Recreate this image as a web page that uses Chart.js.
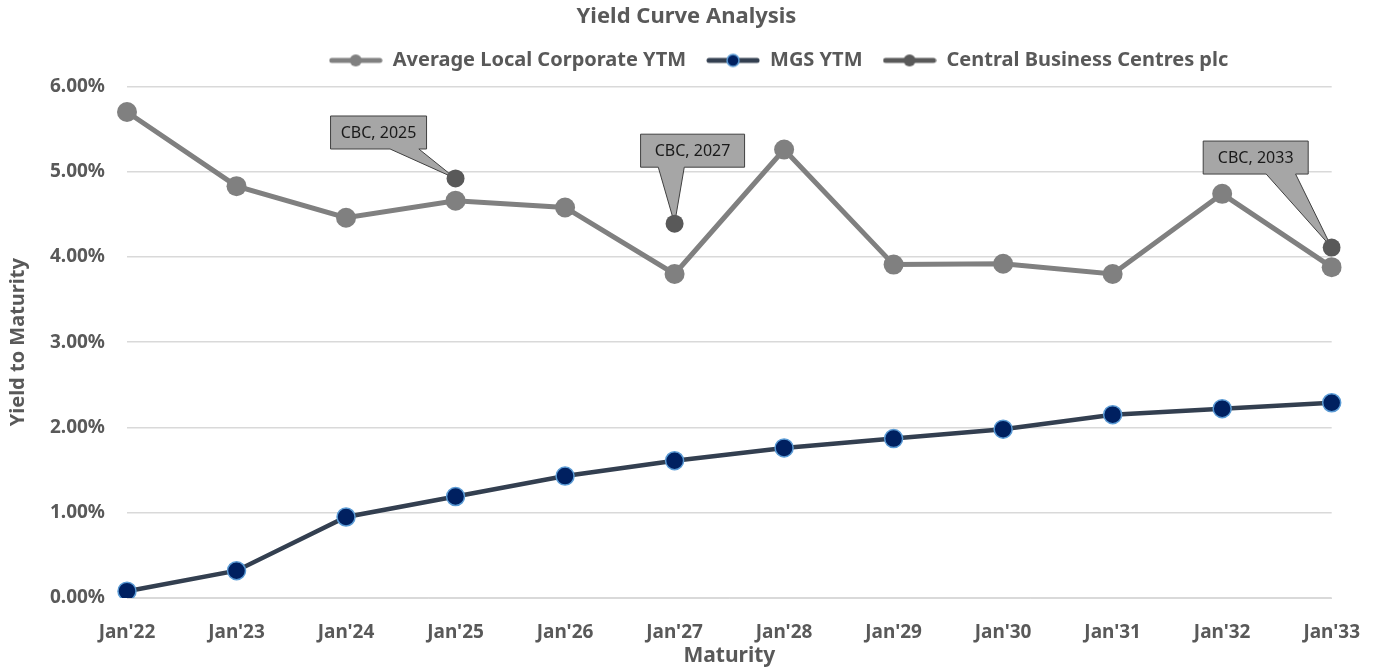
<!DOCTYPE html>
<html lang="en">
<head>
  <meta charset="UTF-8" />
  <title>Yield Curve Analysis</title>
  <script src="https://cdn.jsdelivr.net/npm/chart.js"></script>
  <style>
    body { margin: 0; background: #fff; }
    .chart-wrap { width: 1383px; height: 671px; position: relative; }
  </style>
</head>
<body>
  <div class="chart-wrap"><canvas id="ytmChart"></canvas></div>

  <script>
    const maturities = ["Jan'22", "Jan'23", "Jan'24", "Jan'25", "Jan'26", "Jan'27", "Jan'28", "Jan'29", "Jan'30", "Jan'31", "Jan'32", "Jan'33"];
    const corporateYtm = [5.70, 4.83, 4.46, 4.66, 4.58, 3.80, 5.26, 3.91, 3.92, 3.80, 4.74, 3.88];
    const mgsYtm = [0.08, 0.32, 0.95, 1.19, 1.43, 1.61, 1.76, 1.87, 1.98, 2.15, 2.22, 2.29];
    const cbcYtm = [null, null, null, 4.92, null, 4.39, null, null, null, null, null, 4.11];
    const cbcLabels = ["CBC, 2025", "CBC, 2027", "CBC, 2033"];
    const yTicks = [0, 1, 2, 3, 4, 5, 6];

    const FONT = "'Noto Sans', 'Open Sans', sans-serif";
    const TEXT = "#595959";

    // little line+dot swatch for the legend
    function swatch(lineColor, dotColor, dotBorder) {
      const c = document.createElement("canvas");
      c.width = 54; c.height = 16;
      const g = c.getContext("2d");
      g.strokeStyle = lineColor; g.lineWidth = 5; g.lineCap = "round";
      g.beginPath(); g.moveTo(3, 8); g.lineTo(51, 8); g.stroke();
      g.fillStyle = dotColor;
      g.beginPath(); g.arc(27, 8, 6, 0, Math.PI * 2); g.fill();
      if (dotBorder) { g.strokeStyle = dotBorder; g.lineWidth = 1.5; g.stroke(); }
      return c;
    }

    // legend/title sit right of centre, legend needs a bit more room underneath
    const legendTweak = {
      id: "legendTweak",
      afterInit(chart) {
        const lg = chart.legend;
        const fit = lg.fit;
        lg.fit = function () { fit.call(this); this.height += 6; };
      },
      afterLayout(chart) {
        chart.legend.left += 108;
        chart.legend.right += 108;
        chart.titleBlock.left += 16;
        chart.titleBlock.right += 16;
      }
    };

    // callout boxes pointing at the CBC points
    const calloutPlugin = {
      id: "callouts",
      afterDatasetDraw(chart, args) {
        if (args.index !== 0) return;
        const meta = chart.getDatasetMeta(2);
        const boxes = [
          { i: 3, dx: -77, dy: -46, w: 96, b0: 0.62, b1: 0.92 },
          { i: 5, dx: 18, dy: -73, w: 104, b0: 0.17, b1: 0.42 },
          { i: 11, dx: -76, dy: -90, w: 105, b0: 0.6, b1: 0.88 }
        ];
        const ctx = chart.ctx;
        ctx.save();
        boxes.forEach((b, k) => {
          const pt = meta.data[b.i];
          const h = 33;
          const x0 = pt.x + b.dx - b.w / 2, y0 = pt.y + b.dy - h / 2;
          ctx.beginPath();
          ctx.moveTo(x0, y0);
          ctx.lineTo(x0 + b.w, y0);
          ctx.lineTo(x0 + b.w, y0 + h);
          ctx.lineTo(x0 + b.w * b.b1, y0 + h);
          ctx.lineTo(pt.x, pt.y);
          ctx.lineTo(x0 + b.w * b.b0, y0 + h);
          ctx.lineTo(x0, y0 + h);
          ctx.closePath();
          ctx.fillStyle = "#a6a6a6";
          ctx.fill();
          ctx.strokeStyle = "#404040";
          ctx.lineWidth = 1;
          ctx.stroke();
          ctx.fillStyle = "#1a1a1a";
          ctx.font = "16px " + FONT;
          ctx.textAlign = "center";
          ctx.textBaseline = "middle";
          ctx.fillText(cbcLabels[k], x0 + b.w / 2, y0 + h / 2 + 1);
        });
        ctx.restore();
      }
    };

    new Chart(document.getElementById("ytmChart"), {
      type: "line",
      data: {
        labels: maturities,
        datasets: [
          {
            label: "Average Local Corporate YTM",
            data: corporateYtm,
            borderColor: "#808080",
            backgroundColor: "#808080",
            borderWidth: 5,
            pointRadius: 10,
            pointBorderWidth: 0,
            order: 1
          },
          {
            label: "MGS YTM",
            data: mgsYtm,
            borderColor: "#333f50",
            backgroundColor: "#002060",
            pointBorderColor: "#5b9bd5",
            borderWidth: 4.5,
            pointRadius: 9,
            pointBorderWidth: 1.5,
            order: 2
          },
          {
            label: "Central Business Centres plc",
            data: cbcYtm,
            borderColor: "#595959",
            backgroundColor: "#595959",
            showLine: false,
            pointRadius: 9,
            pointBorderWidth: 0,
            order: 0
          }
        ]
      },
      options: {
        responsive: true,
        maintainAspectRatio: false,
        animation: false,
        layout: { padding: { left: 0, right: 42, top: 0, bottom: 2 } },
        plugins: {
          title: {
            display: true,
            text: "Yield Curve Analysis",
            color: TEXT,
            font: { family: FONT, size: 22, weight: "bold" },
            padding: { top: 4, bottom: 0 }
          },
          legend: {
            position: "top",
            labels: {
              color: TEXT,
              font: { family: FONT, size: 20, weight: "bold" },
              usePointStyle: true,
              pointStyleWidth: 54,
              padding: 20,
              generateLabels(chart) {
                const sw = [
                  swatch("#808080", "#808080"),
                  swatch("#333f50", "#002060", "#5b9bd5"),
                  swatch("#595959", "#595959")
                ];
                return chart.data.datasets.map((ds, i) => ({
                  text: ds.label,
                  pointStyle: sw[i],
                  fontColor: TEXT,
                  lineWidth: 0,
                  strokeStyle: "transparent",
                  fillStyle: "transparent",
                  datasetIndex: i,
                  hidden: false
                }));
              }
            }
          },
          tooltip: { enabled: false }
        },
        scales: {
          x: {
            offset: false,
            grid: { display: false, drawTicks: false },
            border: { color: "#d9d9d9" },
            afterFit(scale) { scale.height = 71; },
            ticks: {
              color: TEXT,
              font: { family: FONT, size: 19, weight: "bold" },
              maxRotation: 0,
              padding: 23
            },
            title: {
              display: true,
              text: "Maturity",
              color: TEXT,
              font: { family: FONT, size: 21, weight: "bold" },
              padding: { top: 0, bottom: 0 }
            }
          },
          y: {
            min: 0,
            max: 6,
            afterBuildTicks(scale) { scale.ticks = yTicks.map(v => ({ value: v })); },
            afterFit(scale) { scale.width = 127; },
            grid: { color: "#d9d9d9", lineWidth: 1.5, drawTicks: false },
            border: { display: false },
            ticks: {
              color: TEXT,
              font: { family: FONT, size: 19, weight: "bold" },
              padding: 22,
              callback: v => v.toFixed(2) + "%"
            },
            title: {
              display: true,
              text: "Yield to Maturity",
              color: TEXT,
              font: { family: FONT, size: 20, weight: "bold" },
              padding: { top: 6, bottom: 0 }
            }
          }
        }
      },
      plugins: [legendTweak, calloutPlugin]
    });
  </script>
</body>
</html>
